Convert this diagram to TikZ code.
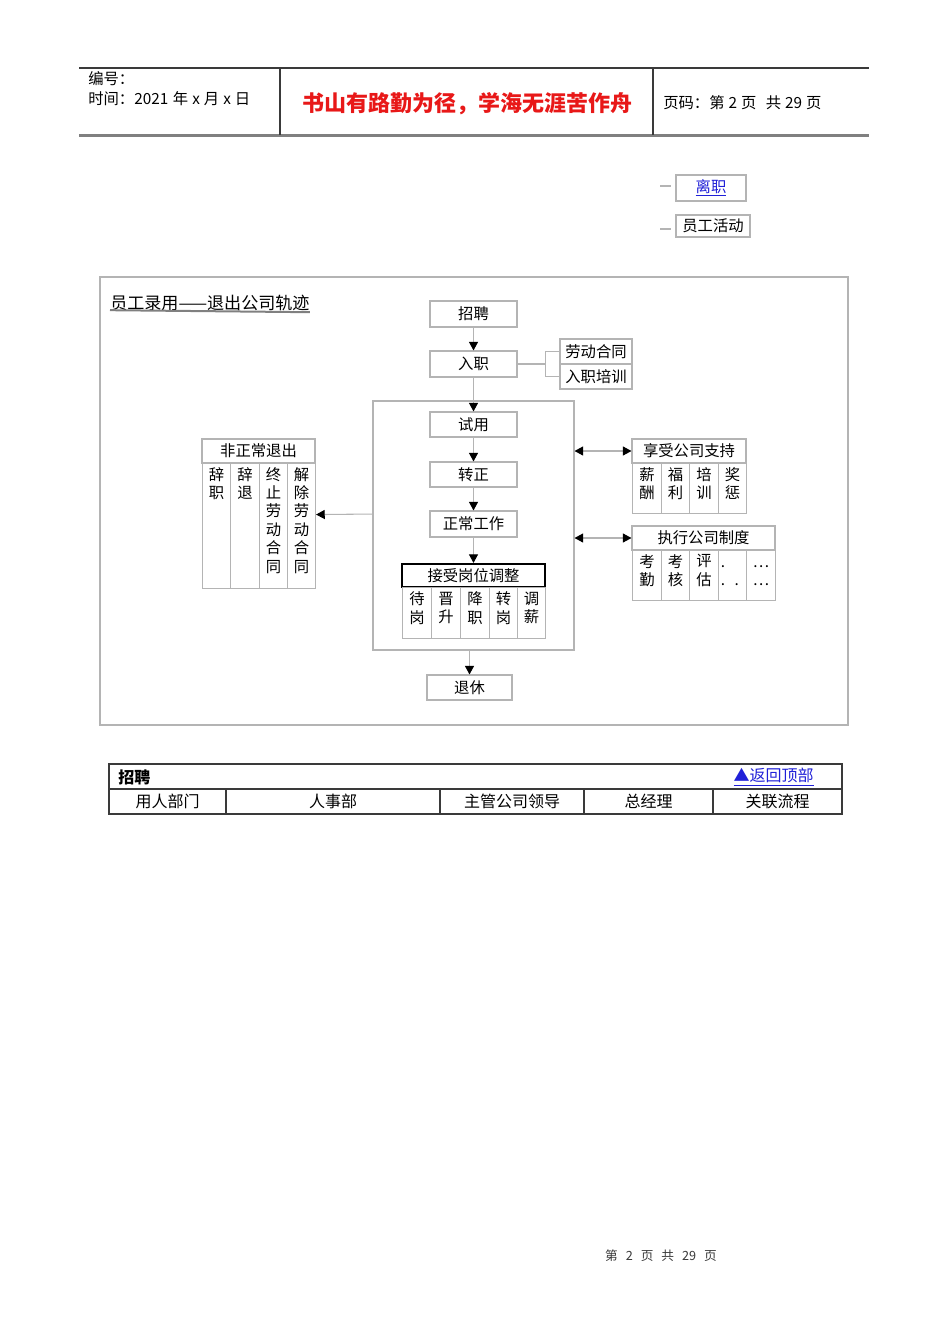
\documentclass[tikz,border=0pt]{standalone}
\usepackage{fontspec}
\setmainfont{Liberation Serif}
\newfontfamily\cjk{Noto Sans CJK SC}
\usetikzlibrary{arrows.meta}
\definecolor{lg}{HTML}{B4B4B4}
\definecolor{dg}{HTML}{3A3A3A}
\definecolor{linkblue}{HTML}{2020D8}
\definecolor{hdrred}{HTML}{E81818}
\begin{document}
\begin{tikzpicture}[x=0.75pt,y=-0.75pt,
  fbox/.style={draw=lg, line width=0.8pt, inner sep=0pt, font=\cjk\fontsize{11.5}{14}\selectfont},
  cell/.style={draw=lg, line width=0.8pt, inner sep=0pt, anchor=north west},
  ctext/.style={anchor=north, align=center, inner sep=0pt, font=\cjk\fontsize{11.5}{13.8}\selectfont},
  ln/.style={draw=lg, line width=0.8pt},
  tip/.tip={Triangle[width=6.8pt,length=6.5pt,color=black]},
  ar/.style={ln, -tip},
  dar/.style={ln, tip-tip},
  hdr/.style={anchor=west, inner sep=0pt, font=\cjk\fontsize{11.5}{13}\selectfont},
  tcell/.style={draw=dg, line width=0.8pt, inner sep=0pt, minimum height=25*0.75pt, font=\cjk\fontsize{12}{14}\selectfont},
]
\useasboundingbox[fill=white] (0,0) rectangle (950,1344);

% ---------- header ----------
\draw[dg, line width=0.8pt] (79,68) -- (869,68);
\draw[gray, line width=1.6pt] (79,135.5) -- (869,135.5);
\draw[dg, line width=0.8pt] (280,68) -- (280,135);
\draw[dg, line width=0.8pt] (653,68) -- (653,135);
\node[hdr] (bh) at (88,79) {编号：};
\node[hdr] (sj) at (88,99) {时间：2021\hspace{3.5pt}年\hspace{3pt}x\hspace{3pt}月\hspace{3pt}x\hspace{3pt}日};
\node[inner sep=0pt, text=hdrred, font=\cjk\bfseries\fontsize{16.5}{18}\selectfont] (motto) at (467,104) {书山有路勤为径，学海无涯苦作舟};
\node[hdr] (ym) at (663,103) {页码：第\hspace{3pt}2\hspace{3pt}页\hspace{7pt}共\hspace{3pt}29\hspace{3pt}页};

% ---------- top links ----------
\node[fbox, minimum width=70*0.75pt, minimum height=26*0.75pt, text=linkblue] (lz) at (711,188) {\underline{离职}};
\node[fbox, minimum width=74*0.75pt, minimum height=22*0.75pt] (yghd) at (713,226) {员工活动};
\coordinate (d1) at (660,186);
\coordinate (d2) at (660,229);
\draw[ln] (d1) -- ++(11,0);
\draw[ln] (d2) -- ++(11,0);

% ---------- outer frame ----------
\node[draw=lg, line width=0.8pt, minimum width=748*0.75pt, minimum height=448*0.75pt, inner sep=0pt] (outer) at (474,501) {};
\node[anchor=west, inner sep=0pt, font=\cjk\fontsize{12.8}{14}\selectfont] (title) at (110,303) {员工录用——退出公司轨迹};
\draw[gray, line width=1.5pt] (title.south west) ++(0,-1) -- ([yshift=-0.75pt]title.south east);

% ---------- main flow ----------
\node[fbox, minimum width=87*0.75pt, minimum height=26*0.75pt] (zp) at (473.5,314) {招聘};
\node[fbox, minimum width=87*0.75pt, minimum height=26*0.75pt] (rz) at (473.5,364) {入职};
\node[fbox, minimum width=72*0.75pt, minimum height=25*0.75pt] (ldht) at (596,351.5) {劳动合同};
\node[fbox, minimum width=72*0.75pt, minimum height=25*0.75pt] (rzpx) at (596,376.5) {入职培训};
\coordinate (br) at (546,364);
\draw[ln] (rz.east) -- (br);
\draw[ln] (ldht.west) -- ++(-14,0) |- (rzpx.west);

\node[draw=lg, line width=0.8pt, minimum width=201*0.75pt, minimum height=249*0.75pt, inner sep=0pt] (inner) at (473.5,525.5) {};

\node[fbox, minimum width=87*0.75pt, minimum height=25*0.75pt] (sy) at (473.5,424.5) {试用};
\node[fbox, minimum width=87*0.75pt, minimum height=25*0.75pt] (zz) at (473.5,474.5) {转正};
\node[fbox, minimum width=87*0.75pt, minimum height=26*0.75pt] (zcgz) at (473.5,524) {正常工作};
\node[fbox, draw=black, line width=1.6pt, minimum width=143*0.75pt, minimum height=23*0.75pt] (jsgw) at (473.5,575.5) {接受岗位调整};

\draw[ar] (zp.south) -- (rz.north);
\draw[ar] (rz.south) -- (sy.north);
\draw[ar] (sy.south) -- (zz.north);
\draw[ar] (zz.south) -- (zcgz.north);
\draw[ar] (zcgz.south) -- (jsgw.north);

% adjustment cells
\node[cell, minimum width=29*0.75pt, minimum height=51*0.75pt] (a1) at (402,587) {};
\node[cell, minimum width=29*0.75pt, minimum height=51*0.75pt] (a2) at (431,587) {};
\node[cell, minimum width=29*0.75pt, minimum height=51*0.75pt] (a3) at (460,587) {};
\node[cell, minimum width=28*0.75pt, minimum height=51*0.75pt] (a4) at (489,587) {};
\node[cell, minimum width=28*0.75pt, minimum height=51*0.75pt] (a5) at (517,587) {};
\node[ctext] at ([yshift=-3.5pt]a1.north) {待\\岗};
\node[ctext] at ([yshift=-3.5pt]a2.north) {晋\\升};
\node[ctext] at ([yshift=-3.5pt]a3.north) {降\\职};
\node[ctext] at ([yshift=-3.5pt]a4.north) {转\\岗};
\node[ctext] at ([yshift=-3.5pt]a5.north) {调\\薪};

% retirement
\node[fbox, minimum width=85*0.75pt, minimum height=25*0.75pt] (tx) at (469.5,687.5) {退休};
\draw[ar] (tx.north |- inner.south) -- (tx.north);

% ---------- abnormal exit ----------
\node[fbox, minimum width=113*0.75pt, minimum height=24*0.75pt] (fzc) at (258.5,451) {非正常退出};
\node[cell, minimum width=28*0.75pt, minimum height=125*0.75pt] (f1) at (202,463) {};
\node[cell, minimum width=29*0.75pt, minimum height=125*0.75pt] (f2) at (230,463) {};
\node[cell, minimum width=28*0.75pt, minimum height=125*0.75pt] (f3) at (259,463) {};
\node[cell, minimum width=28*0.75pt, minimum height=125*0.75pt] (f4) at (287,463) {};
\node[ctext] at ([yshift=-3pt]f1.north) {辞\\职};
\node[ctext] at ([yshift=-3pt]f2.north) {辞\\退};
\node[ctext] at ([yshift=-3pt]f3.north) {终\\止\\劳\\动\\合\\同};
\node[ctext] at ([yshift=-3pt]f4.north) {解\\除\\劳\\动\\合\\同};
\draw[ar] ([yshift=8.6pt]inner.west) -- ([yshift=8.6pt]f4.east);

% ---------- company support ----------
\node[fbox, minimum width=114*0.75pt, minimum height=24*0.75pt] (xs) at (689,451) {享受公司支持};
\node[cell, minimum width=29*0.75pt, minimum height=50*0.75pt] (s1) at (632,463) {};
\node[cell, minimum width=28*0.75pt, minimum height=50*0.75pt] (s2) at (661,463) {};
\node[cell, minimum width=29*0.75pt, minimum height=50*0.75pt] (s3) at (689,463) {};
\node[cell, minimum width=28*0.75pt, minimum height=50*0.75pt] (s4) at (718,463) {};
\node[ctext] at ([yshift=-3pt]s1.north) {薪\\酬};
\node[ctext] at ([yshift=-3pt]s2.north) {福\\利};
\node[ctext] at ([yshift=-3pt]s3.north) {培\\训};
\node[ctext] at ([yshift=-3pt]s4.north) {奖\\惩};
\draw[dar] (inner.east |- xs.west) -- (xs.west);

% ---------- company rules ----------
\node[fbox, minimum width=143*0.75pt, minimum height=24*0.75pt] (zx) at (703.5,538) {执行公司制度};
\node[cell, minimum width=29*0.75pt, minimum height=50*0.75pt] (r1) at (632,550) {};
\node[cell, minimum width=28*0.75pt, minimum height=50*0.75pt] (r2) at (661,550) {};
\node[cell, minimum width=29*0.75pt, minimum height=50*0.75pt] (r3) at (689,550) {};
\node[cell, minimum width=28*0.75pt, minimum height=50*0.75pt] (r4) at (718,550) {};
\node[cell, minimum width=29*0.75pt, minimum height=50*0.75pt] (r5) at (746,550) {};
\node[ctext] at ([yshift=-3pt]r1.north) {考\\勤};
\node[ctext] at ([yshift=-3pt]r2.north) {考\\核};
\node[ctext] at ([yshift=-3pt]r3.north) {评\\估};
\node[ctext, anchor=north west, align=left] at ([xshift=2pt,yshift=-3pt]r4.north west) {\vphantom{考}.\\\vphantom{考}.\hspace{7pt}.};
\node[ctext] at ([yshift=-3pt]r5.north) {\vphantom{考}\dots\\\vphantom{考}\dots};
\draw[dar] (inner.east |- zx.west) -- (zx.west);

% ---------- bottom table ----------
\node[tcell, minimum width=733*0.75pt] (row1) at (475.5,776.5) {};
\node[anchor=west, inner sep=0pt, font=\cjk\bfseries\fontsize{12}{14}\selectfont] (zpl) at (118,777) {招聘};
\node[anchor=east, inner sep=0pt, text=linkblue, font=\cjk\fontsize{12}{14}\selectfont] (back) at (814,777) {\underline{▲返回顶部}};
\node[tcell, minimum width=117*0.75pt] (c1) at (167.5,801.5) {用人部门};
\node[tcell, minimum width=214*0.75pt] (c2) at (333,801.5) {人事部};
\node[tcell, minimum width=144*0.75pt] (c3) at (512,801.5) {主管公司领导};
\node[tcell, minimum width=129*0.75pt] (c4) at (648.5,801.5) {总经理};
\node[tcell, minimum width=129*0.75pt] (c5) at (777.5,801.5) {关联流程};

% ---------- footer ----------
\node[inner sep=0pt, text=dg, font=\cjk\fontsize{9.5}{11}\selectfont] (foot) at (661,1256) {第\hspace{6pt}2\hspace{6pt}页\hspace{6pt}共\hspace{6pt}29\hspace{6pt}页};
\end{tikzpicture}
\end{document}
